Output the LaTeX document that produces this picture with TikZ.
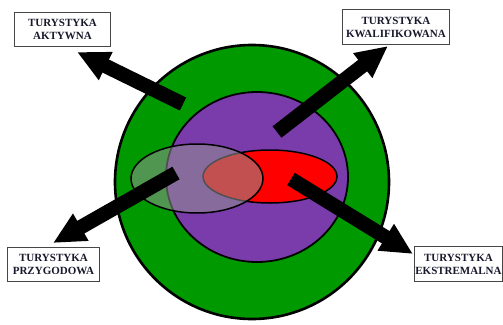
\documentclass[tikz,border=0pt]{standalone}
\usepackage{fontspec}
\setmainfont{Liberation Serif}
\usetikzlibrary{arrows.meta}
\definecolor{ringgreen}{RGB}{0,153,0}
\definecolor{innerpurple}{RGB}{122,60,170}
\definecolor{boxline}{RGB}{70,70,70}
\definecolor{labeltext}{RGB}{25,25,45}
\tikzset{
  labelbox/.style={draw=boxline, line width=0.9pt, fill=white, align=center,
    font=\fontsize{11}{13}\selectfont\bfseries, text=labeltext,
    inner sep=0pt, anchor=north west},
  bigarrow/.style={line width=14.5pt, -{Triangle[width=29pt,length=32pt]}}
}
\begin{document}
\begin{tikzpicture}[x=1pt,y=-1pt]
\useasboundingbox (0,0) rectangle (503,324);
% rings
\filldraw[fill=ringgreen, draw=black, line width=2.6pt] (252,182) ellipse [x radius=137, y radius=137];
\filldraw[fill=innerpurple, draw=black, line width=1.8pt] (257,177) ellipse [x radius=91, y radius=85];
% red ellipse
\filldraw[fill=red, draw=black, line width=1.5pt] (270,176.5) ellipse [x radius=67, y radius=26.5];
% grey translucent ellipse
\fill[gray!85, fill opacity=0.55] (197,178.5) ellipse [x radius=66, y radius=34.5];
\draw[black, line width=1.5pt] (197,178.5) ellipse [x radius=66, y radius=34.5];
% label boxes
\node[labelbox, minimum width=96pt, minimum height=34pt] (akt) at (14,12) {TURYSTYKA\\AKTYWNA};
\node[labelbox, minimum width=107pt, minimum height=35pt] (kwa) at (342,9) {TURYSTYKA\\KWALIFIKOWANA};
\node[labelbox, minimum width=92pt, minimum height=34pt] (prz) at (7,247) {TURYSTYKA\\PRZYGODOWA};
\node[labelbox, minimum width=88pt, minimum height=35pt] (eks) at (414,246) {TURYSTYKA\\EKSTREMALNA};
% arrow ends
\coordinate (aktTail) at (183,104);
\coordinate (aktTip) at (77,52);
\coordinate (kwaTail) at (277,132);
\coordinate (kwaTip) at (388,46);
\coordinate (przTail) at (176,173);
\coordinate (przTip) at (53,243);
\coordinate (eksTail) at (291,179);
\coordinate (eksTip) at (413,254);
\draw[bigarrow] (aktTail) -- (aktTip);
\draw[bigarrow] (kwaTail) -- (kwaTip);
\draw[bigarrow] (przTail) -- (przTip);
\draw[bigarrow] (eksTail) -- (eksTip);
\end{tikzpicture}
\end{document}
